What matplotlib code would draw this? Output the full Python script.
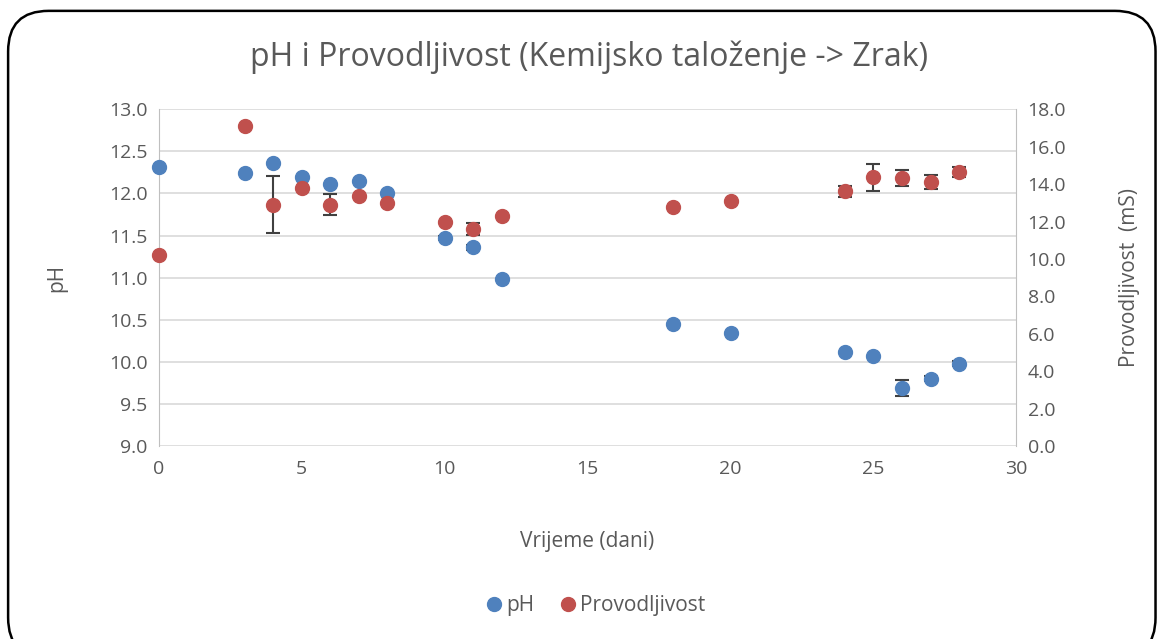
import matplotlib.pyplot as plt
from matplotlib.patches import FancyBboxPatch

# days
dani = [0, 3, 4, 5, 6, 7, 8, 10, 11, 12, 18, 20, 24, 25, 26, 27, 28]

ph = [12.32, 12.24, 12.36, 12.19, 12.11, 12.15, 12.01, 11.47, 11.36, 10.98,
      10.45, 10.34, 10.12, 10.07, 9.69, 9.80, 9.98]
ph_err = [0, 0, 0, 0, 0, 0, 0, 0.02, 0.03, 0,
          0, 0, 0, 0, 0.10, 0.03, 0.03]

prov = [10.2, 17.1, 12.9, 13.8, 12.9, 13.35, 13.0, 11.95, 11.6, 12.3,
        12.75, 13.1, 13.62, 14.37, 14.32, 14.1, 14.65]
prov_err = [0, 0, 1.52, 0, 0.56, 0, 0, 0, 0.3, 0,
            0, 0, 0.3, 0.72, 0.43, 0.37, 0.25]

plt.rcParams['font.family'] = ['Open Sans', 'DejaVu Sans']
txt = '#595959'
blue = '#4F81BD'
red = '#C0504D'

fig = plt.figure(figsize=(11.59, 6.39), dpi=100)
border = FancyBboxPatch((0.007, -0.03), 0.990, 1.013,
                        boxstyle='round,pad=0,rounding_size=0.035',
                        transform=fig.transFigure, fc='white',
                        ec='black', lw=1.8, mutation_aspect=1159 / 639, zorder=-10)
fig.patches.append(border)

ax = fig.add_axes([0.137, 0.302, 0.740, 0.527])
ax2 = ax.twinx()
ax.patch.set_alpha(0)
ax2.patch.set_alpha(0)

e1 = ax.errorbar(dani, ph, yerr=ph_err, fmt='o', color=blue, ms=10,
                 ecolor='#404040', elinewidth=1.5, capsize=5, capthick=1.5, label='pH', zorder=3)
e2 = ax2.errorbar(dani, prov, yerr=prov_err, fmt='o', color=red, ms=10,
                  ecolor='#404040', elinewidth=1.5, capsize=5, capthick=1.5,
                  label='Provodljivost', zorder=3)
for e in (e1, e2):
    for art in e.lines[:1] + tuple(e.lines[1]) + tuple(e.lines[2]):
        art.set_clip_on(False)

ax.set_xlim(0, 30)
ax.set_ylim(9.0, 13.0)
ax2.set_ylim(0, 18)
ax.set_xticks(range(0, 31, 5))
ax.set_yticks([9.0 + 0.5 * i for i in range(9)])
ax.set_yticklabels([f'{9.0 + 0.5 * i:.1f}' for i in range(9)])
ax2.set_yticks(range(0, 19, 2))
ax2.set_yticklabels([f'{v:.1f}' for v in range(0, 19, 2)])

ax.grid(axis='y', color='#d9d9d9', lw=1.2)
ax.set_axisbelow(True)
for a in (ax, ax2):
    for s in a.spines.values():
        s.set_visible(False)
    a.tick_params(colors=txt, labelsize=14, length=0)
ax.spines['left'].set_visible(True)
ax.spines['left'].set_color('#bfbfbf')
ax2.spines['right'].set_visible(True)
ax2.spines['right'].set_color('#bfbfbf')
ax.tick_params(axis='x', pad=10)
ax.tick_params(axis='y', pad=8)
ax2.tick_params(axis='y', pad=8)

ax.set_xlabel('Vrijeme (dani)', color=txt, fontsize=15, labelpad=38)
ax.set_ylabel('pH', color=txt, fontsize=15, labelpad=30)
ax2.set_ylabel('Provodljivost  (mS)', color=txt, fontsize=15, labelpad=38)

fig.text(0.508, 0.91, 'pH i Provodljivost (Kemijsko taloženje -> Zrak)',
         ha='center', va='center', color=txt, fontsize=23)

handles = [plt.Line2D([], [], marker='o', ls='', color=blue, ms=10),
           plt.Line2D([], [], marker='o', ls='', color=red, ms=10)]
fig.legend(handles, ['pH', 'Provodljivost'], loc='center', bbox_to_anchor=(0.512, 0.052),
           ncol=2, frameon=False, fontsize=15, labelcolor=txt, handletextpad=0.0,
           columnspacing=1.0, handlelength=1.2)

fig.savefig('out.png', dpi=100)
